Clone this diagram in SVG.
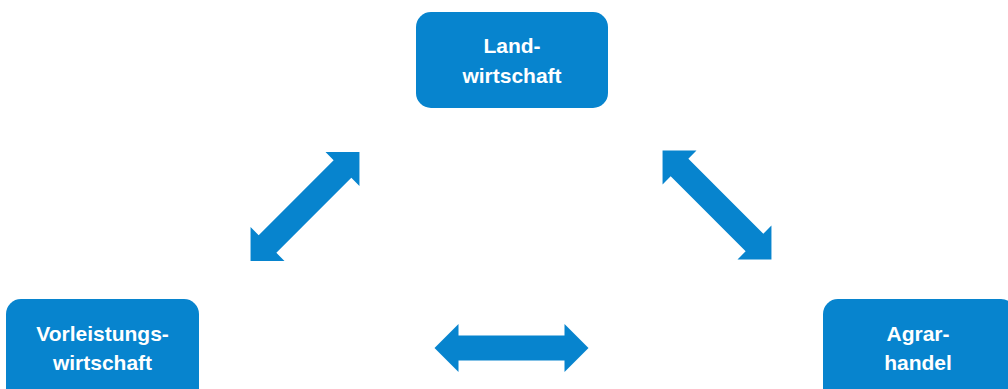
<svg xmlns="http://www.w3.org/2000/svg" width="1008" height="389" viewBox="0 0 1008 389">
  <style>
    .box { fill: #0784CE; }
    .lbl { font-family: "Liberation Sans", Arial, sans-serif; font-weight: bold; font-size: 21px; fill: #ffffff; text-anchor: middle; }
    .arr { fill: #0784CE; }
  </style>
  <defs>
    <path id="dblarrow" d="M -77,0 L -53,-24 L -53,-12.5 L 53,-12.5 L 53,-24 L 77,0 L 53,24 L 53,12.5 L -53,12.5 L -53,24 Z"/>
  </defs>
  <rect width="1008" height="389" fill="#ffffff"/>
  <g id="landwirtschaft">
    <rect class="box" x="416" y="12" width="192" height="96" rx="15" ry="15"/>
    <text class="lbl" x="512" y="53">Land-</text>
    <text class="lbl" x="512" y="83">wirtschaft</text>
  </g>
  <g id="vorleistungswirtschaft">
    <rect class="box" x="6" y="299" width="193" height="110" rx="15" ry="15"/>
    <text class="lbl" x="102.5" y="341">Vorleistungs-</text>
    <text class="lbl" x="102.5" y="370">wirtschaft</text>
  </g>
  <g id="agrarhandel">
    <rect class="box" x="823" y="299" width="193" height="110" rx="15" ry="15"/>
    <text class="lbl" x="918" y="341">Agrar-</text>
    <text class="lbl" x="918" y="370">handel</text>
  </g>
  <g id="connectors">
    <use href="#dblarrow" class="arr" transform="translate(305,206.5) rotate(-45)"/>
    <use href="#dblarrow" class="arr" transform="translate(717,205) rotate(45)"/>
    <use href="#dblarrow" class="arr" transform="translate(511.5,348)"/>
  </g>
</svg>
